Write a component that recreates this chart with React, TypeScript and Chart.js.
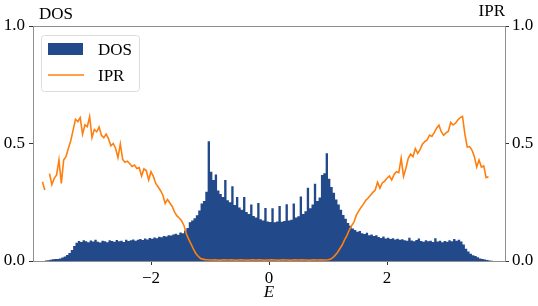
import { useEffect, useRef } from "react";
import { Chart, registerables } from "chart.js";

Chart.register(...registerables);

// ---------- data ----------
const DOS_START = -3.8; // left edge of first histogram bin
const DOS_BIN = 0.04; // bin width
// DOS histogram heights, bins from -3.8 to 3.8
const DOS_VALUES: number[] = [
  // -3.78 .. -3.42
  0.002, 0.003, 0.005, 0.007, 0.008, 0.009, 0.011, 0.015, 0.019, 0.026,
  // -3.38 .. -3.02
  0.034, 0.047, 0.064, 0.078, 0.085, 0.081, 0.088, 0.084, 0.080, 0.087,
  // -2.98 .. -2.62
  0.083, 0.090, 0.082, 0.079, 0.086, 0.084, 0.080, 0.088, 0.085, 0.082,
  // -2.58 .. -2.22
  0.089, 0.084, 0.086, 0.081, 0.090, 0.085, 0.088, 0.092, 0.086, 0.090,
  // -2.18 .. -1.82
  0.094, 0.089, 0.096, 0.092, 0.098, 0.095, 0.100, 0.097, 0.103, 0.101,
  // -1.78 .. -1.42
  0.106, 0.104, 0.110, 0.108, 0.113, 0.116, 0.112, 0.121, 0.118, 0.130,
  // -1.38 .. -1.02
  0.140, 0.165, 0.172, 0.182, 0.195, 0.215, 0.245, 0.255, 0.295, 0.510,
  // -0.98 .. -0.62
  0.380, 0.345, 0.368, 0.300, 0.285, 0.272, 0.345, 0.258, 0.250, 0.318,
  // -0.58 .. -0.22
  0.238, 0.272, 0.228, 0.218, 0.272, 0.208, 0.200, 0.240, 0.192, 0.185,
  // -0.18 .. -0.02
  0.247, 0.178, 0.172, 0.226, 0.168,
  // 0.02 .. 0.38
  0.166, 0.224, 0.165, 0.168, 0.234, 0.167, 0.170, 0.241, 0.172, 0.176,
  // 0.42 .. 0.78
  0.245, 0.185, 0.190, 0.274, 0.200, 0.212, 0.312, 0.225, 0.240, 0.329,
  // 0.82 .. 1.18
  0.255, 0.270, 0.366, 0.373, 0.458, 0.350, 0.315, 0.290, 0.262, 0.240,
  // 1.22 .. 1.58
  0.218, 0.196, 0.180, 0.162, 0.150, 0.138, 0.132, 0.125, 0.128, 0.118,
  // 1.62 .. 1.98
  0.115, 0.120, 0.110, 0.113, 0.106, 0.110, 0.102, 0.098, 0.104, 0.096,
  // 2.02 .. 2.38
  0.099, 0.094, 0.097, 0.092, 0.095, 0.090, 0.093, 0.088, 0.086, 0.099,
  // 2.42 .. 2.78
  0.087, 0.084, 0.089, 0.096, 0.085, 0.082, 0.088, 0.084, 0.086, 0.081,
  // 2.82 .. 3.18
  0.097, 0.083, 0.086, 0.080, 0.085, 0.082, 0.088, 0.084, 0.094, 0.086,
  // 3.22 .. 3.58
  0.090, 0.083, 0.070, 0.052, 0.040, 0.031, 0.025, 0.021, 0.016, 0.011,
  // 3.62 .. 3.78
  0.008, 0.006, 0.004, 0.002, 0.001,
];

const IPR_START = -3.84; // energy of first IPR sample
const IPR_STEP = 0.04;
// IPR samples (null = gap in the curve)
const IPR_VALUES: (number | null)[] = [
  // -3.84 .. -3.48
  0.337, 0.302, null, 0.372, 0.325, 0.352, 0.366, 0.430, 0.330, 0.430,
  // -3.44 .. -3.08
  0.445, 0.480, 0.512, 0.557, 0.603, 0.593, 0.610, 0.540, 0.579, 0.572,
  // -3.04 .. -2.68
  0.614, 0.525, 0.560, 0.550, 0.570, 0.535, 0.525, 0.540, 0.520, 0.490,
  // -2.64 .. -2.28
  0.500, 0.480, 0.440, 0.498, 0.432, 0.420, 0.425, 0.414, 0.402, 0.408,
  // -2.24 .. -1.88
  0.394, 0.398, 0.362, 0.392, 0.385, 0.345, 0.380, 0.360, 0.330, 0.316,
  // -1.84 .. -1.48
  0.300, 0.281, 0.245, 0.262, 0.247, 0.232, 0.208, 0.192, 0.183, 0.170,
  // -1.44 .. -1.08
  0.150, 0.115, 0.092, 0.072, 0.050, 0.032, 0.020, 0.011, 0.008, 0.006,
  // -1.04
  0.005,
  // -1.00 .. 0.96
  0.004, 0.004, 0.005, 0.004, 0.003, 0.004, 0.005, 0.004, 0.004, 0.005,
  0.004, 0.003, 0.004, 0.005, 0.004, 0.004, 0.003, 0.004, 0.005, 0.004,
  0.004, 0.005, 0.004, 0.003, 0.004, 0.004, 0.005, 0.004, 0.004, 0.003,
  0.004, 0.005, 0.004, 0.004, 0.003, 0.004, 0.005, 0.004, 0.004, 0.005,
  0.004, 0.004, 0.003, 0.004, 0.005, 0.004, 0.004, 0.005, 0.004, 0.004,
  // 1.00 .. 1.36
  0.005, 0.007, 0.014, 0.024, 0.036, 0.052, 0.068, 0.090, 0.108, 0.132,
  // 1.40 .. 1.76
  0.150, 0.165, 0.195, 0.212, 0.228, 0.242, 0.258, 0.268, 0.280, 0.292,
  // 1.80 .. 2.16
  0.302, 0.335, 0.310, 0.332, 0.340, 0.352, 0.362, 0.345, 0.368, 0.380,
  // 2.20 .. 2.56
  0.376, 0.437, 0.360, 0.394, 0.437, 0.455, 0.444, 0.478, 0.458, 0.474,
  // 2.60 .. 2.96
  0.497, 0.508, 0.515, 0.536, 0.530, 0.546, 0.565, 0.578, 0.550, 0.535,
  // 3.00 .. 3.36
  0.545, 0.552, 0.590, 0.579, 0.586, 0.600, 0.610, 0.615, 0.540, 0.485,
  // 3.40 .. 3.72
  0.487, 0.472, 0.445, 0.400, 0.430, 0.400, 0.405, 0.355, 0.359,
];

const X_RANGE = [-4, 4];
const X_TICKS = [-2, 0, 2];
const Y_RANGE = [0, 1];
const Y_STEP = 0.5;
const SERIES_DOS = "DOS";
const SERIES_IPR = "IPR";
const LEFT_TITLE = "DOS";
const RIGHT_TITLE = "IPR";
const X_TITLE = "E";

// ---------- styles ----------
const FONT = "'Liberation Serif', serif";
const FONT_SIZE = 17;
const DOS_COLOR = "#22498a";
const IPR_COLOR = "#ff7f0e";
const SPINE_COLOR = "#8f8f8f";
const TICK_COLOR = "#333333";

function fmtX(v: number): string {
  return v < 0 ? "\u2212" + Math.abs(v) : String(v);
}

const decorPlugin = {
  id: "decor",
  afterDraw(chart: any) {
    const { ctx, chartArea } = chart;
    const { left, right, top } = chartArea;
    ctx.save();
    // top spine
    ctx.strokeStyle = SPINE_COLOR;
    ctx.lineWidth = 1;
    ctx.beginPath();
    ctx.moveTo(left, Math.round(top) + 0.5);
    ctx.lineTo(right, Math.round(top) + 0.5);
    ctx.stroke();

    // axis titles on top
    ctx.fillStyle = "#000";
    ctx.font = `${FONT_SIZE}px ${FONT}`;
    ctx.textBaseline = "alphabetic";
    ctx.textAlign = "left";
    ctx.fillText(LEFT_TITLE, left + 6, top - 7);
    ctx.textAlign = "right";
    ctx.fillText(RIGHT_TITLE, right, top - 10);

    // legend
    const bx = left + 8;
    const by = top + 9;
    const bw = 98;
    const bh = 56;
    ctx.beginPath();
    if ((ctx as any).roundRect) {
      (ctx as any).roundRect(bx + 0.5, by + 0.5, bw, bh, 3);
    } else {
      ctx.rect(bx + 0.5, by + 0.5, bw, bh);
    }
    ctx.fillStyle = "rgba(255,255,255,0.8)";
    ctx.fill();
    ctx.strokeStyle = "#dcdcdc";
    ctx.lineWidth = 1;
    ctx.stroke();

    ctx.fillStyle = DOS_COLOR;
    ctx.fillRect(left + 15, top + 17, 35, 12);
    ctx.strokeStyle = IPR_COLOR;
    ctx.lineWidth = 1.6;
    ctx.beginPath();
    ctx.moveTo(left + 15, top + 49);
    ctx.lineTo(left + 51, top + 49);
    ctx.stroke();

    ctx.fillStyle = "#000";
    ctx.textAlign = "left";
    ctx.fillText(SERIES_DOS, left + 65, top + 29);
    ctx.fillText(SERIES_IPR, left + 65, top + 55);
    ctx.restore();
  },
};

export default function App() {
  const canvasRef = useRef<HTMLCanvasElement | null>(null);

  useEffect(() => {
    const canvas = canvasRef.current;
    if (!canvas) return;

    const dosPoints: { x: number; y: number }[] = [];
    dosPoints.push({ x: DOS_START, y: DOS_VALUES[0] });
    DOS_VALUES.forEach((v, i) => {
      dosPoints.push({ x: DOS_START + (i + 0.5) * DOS_BIN, y: v });
    });
    dosPoints.push({
      x: DOS_START + DOS_VALUES.length * DOS_BIN,
      y: DOS_VALUES[DOS_VALUES.length - 1],
    });

    const iprPoints = IPR_VALUES.map((v, i) => ({
      x: IPR_START + i * IPR_STEP,
      y: v,
    }));

    const yTickCb = (v: any) => Number(v).toFixed(1);

    const chart = new Chart(canvas, {
      type: "line",
      data: {
        datasets: [
          {
            label: SERIES_DOS,
            data: dosPoints as any,
            yAxisID: "y",
            stepped: "middle",
            fill: "origin",
            backgroundColor: DOS_COLOR,
            borderColor: DOS_COLOR,
            borderWidth: 0,
            pointRadius: 0,
            tension: 0,
            order: 2,
          },
          {
            label: SERIES_IPR,
            data: iprPoints as any,
            yAxisID: "y2",
            fill: false,
            borderColor: IPR_COLOR,
            borderWidth: 1.6,
            pointRadius: 0,
            tension: 0,
            spanGaps: false,
            order: 1,
          },
        ],
      },
      options: {
        animation: false,
        responsive: false,
        devicePixelRatio: 1,
        events: [],
        layout: { padding: { top: 26, left: 0, right: 0, bottom: 0 } },
        plugins: {
          legend: { display: false },
          tooltip: { enabled: false },
          title: { display: false },
        },
        scales: {
          x: {
            type: "linear",
            min: X_RANGE[0],
            max: X_RANGE[1],
            afterBuildTicks: (axis: any) => {
              axis.ticks = X_TICKS.map((v) => ({ value: v }));
            },
            afterFit: (scale: any) => {
              scale.height = 45;
            },
            ticks: {
              color: "#000",
              font: { family: FONT, size: FONT_SIZE },
              padding: 3,
              maxRotation: 0,
              autoSkip: false,
              callback: (v: any) => fmtX(Number(v)),
            },
            grid: {
              drawOnChartArea: false,
              drawTicks: true,
              tickLength: 4,
              tickColor: TICK_COLOR,
            },
            border: { display: true, color: SPINE_COLOR, width: 1 },
            title: {
              display: true,
              text: X_TITLE,
              color: "#000",
              font: { family: FONT, size: FONT_SIZE, style: "italic" },
              padding: { top: 0, bottom: 3 },
            },
          },
          y: {
            type: "linear",
            position: "left",
            min: Y_RANGE[0],
            max: Y_RANGE[1],
            afterFit: (scale: any) => {
              scale.width = 33;
            },
            ticks: {
              stepSize: Y_STEP,
              color: "#000",
              font: { family: FONT, size: FONT_SIZE },
              padding: 4,
              callback: yTickCb,
            },
            grid: {
              drawOnChartArea: false,
              drawTicks: true,
              tickLength: 4,
              tickColor: TICK_COLOR,
            },
            border: { display: true, color: SPINE_COLOR, width: 1 },
          },
          y2: {
            type: "linear",
            position: "right",
            min: Y_RANGE[0],
            max: Y_RANGE[1],
            afterFit: (scale: any) => {
              scale.width = 33;
            },
            ticks: {
              stepSize: Y_STEP,
              color: "#000",
              font: { family: FONT, size: FONT_SIZE },
              padding: 3,
              callback: yTickCb,
            },
            grid: {
              drawOnChartArea: false,
              drawTicks: true,
              tickLength: 4,
              tickColor: TICK_COLOR,
            },
            border: { display: true, color: SPINE_COLOR, width: 1 },
          },
        },
      },
      plugins: [decorPlugin],
    });

    return () => chart.destroy();
  }, []);

  return (
    <div
      style={{
        position: "fixed",
        left: 0,
        top: 0,
        width: 538,
        height: 306,
        background: "#fff",
      }}
    >
      <canvas
        ref={canvasRef}
        width={538}
        height={306}
        style={{ display: "block", width: 538, height: 306 }}
      />
    </div>
  );
}
